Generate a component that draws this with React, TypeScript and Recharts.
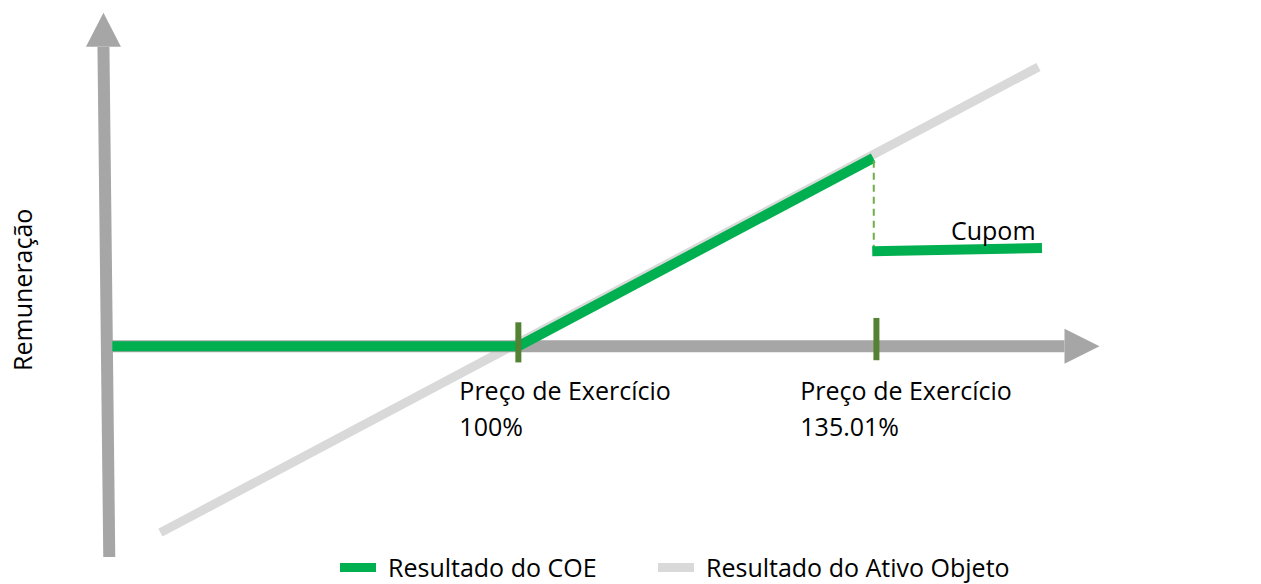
import { ComposedChart, Line, Scatter, XAxis, YAxis, ReferenceLine } from 'recharts';

// strikes (x in % of initial price)
const strikes = [100, 135.01];
const strikeTicks = [
  { x: 100, top: 4.4, bottom: -3.0 },
  { x: 135.01, top: 5.2, bottom: -2.6 },
];

// COE payoff pieces
const coeMain = [
  { x: 60.3, y: 0 },
  { x: 100, y: 0 },
  { x: 134.7, y: 34.7 },
];
const coeDrop = [
  { x: 134.75, y: 34.2 },
  { x: 134.75, y: 18.2 },
];
const coeCoupon = [
  { x: 134.6, y: 17.5 },
  { x: 151.2, y: 18.1 },
];

// underlying asset
const ativo = [
  { x: 65, y: -34.4 },
  { x: 150.85, y: 51.5 },
];

// drawn axes
const xAxisShaft = [
  { x: 60, y: 0 },
  { x: 153.4, y: 0 },
];
const yAxisShaft = [
  { x: 60, y: -38.9 },
  { x: 59.43, y: 55.2 },
];
const arrowHeads = [
  { x: 59.43, y: 55.2, dir: 'up' },
  { x: 153.4, y: 0, dir: 'right' },
];

const labels = [
  { x: 94.23, y: -9.9, text: 'Preço de Exercício' },
  { x: 94.23, y: -16.6, text: strikes[0] + '%' },
  { x: 127.57, y: -9.9, text: 'Preço de Exercício' },
  { x: 127.57, y: -16.6, text: strikes[1] + '%' },
  { x: 142.3, y: 19.6, text: 'Cupom' },
  { x: 160, y: -0.6, text: 'Preço Final' },
];
const yTitle = [{ x: 52.4, y: 10.4, text: 'Remuneração' }];

const legendItems = [
  { name: 'Resultado do COE', color: '#00b050', left: 340 },
  { name: 'Resultado do Ativo Objeto', color: '#d9d9d9', left: 658 },
];

const FONT = '"Open Sans", sans-serif';
const AXIS_GRAY = '#a6a6a6';

const ArrowHead = (props: any) => {
  const { cx, cy, payload } = props;
  if (payload.dir === 'up') {
    return <polygon points={`${cx - 17.5},${cy} ${cx + 17.5},${cy} ${cx},${cy - 34}`} fill={AXIS_GRAY} />;
  }
  return <polygon points={`${cx},${cy - 17.5} ${cx},${cy + 17.5} ${cx + 35},${cy}`} fill={AXIS_GRAY} />;
};

const TextMark = (props: any) => (
  <text x={props.cx} y={props.cy} fontFamily={FONT} fontSize={25} fill="#000">
    {props.payload.text}
  </text>
);

const RotatedText = (props: any) => (
  <text
    x={props.cx}
    y={props.cy}
    fontFamily={FONT}
    fontSize={25}
    fill="#000"
    textAnchor="middle"
    transform={`rotate(-90 ${props.cx} ${props.cy})`}
  >
    {props.payload.text}
  </text>
);

export default function App() {
  return (
    <div style={{ position: 'absolute', left: 0, top: 0, width: 1261, height: 584, background: '#fff', overflow: 'hidden' }}>
      <ComposedChart width={1261} height={584} margin={{ top: 10, right: 129, bottom: 21, left: 7 }}>
        <XAxis dataKey="x" type="number" domain={[50, 160]} allowDataOverflow hide />
        <YAxis type="number" domain={[-40, 62]} allowDataOverflow hide />
        <Line data={ativo} dataKey="y" stroke="#d9d9d9" strokeWidth={9} dot={false} activeDot={false} isAnimationActive={false} />
        <Line data={yAxisShaft} dataKey="y" stroke={AXIS_GRAY} strokeWidth={12} dot={false} activeDot={false} isAnimationActive={false} />
        <Line data={xAxisShaft} dataKey="y" stroke={AXIS_GRAY} strokeWidth={12} dot={false} activeDot={false} isAnimationActive={false} />
        <Scatter data={arrowHeads} dataKey="y" shape={ArrowHead} isAnimationActive={false} />
        <Line data={coeMain} dataKey="y" stroke="#00b050" strokeWidth={10} dot={false} activeDot={false} isAnimationActive={false} />
        <Line data={coeDrop} dataKey="y" stroke="#70ad47" strokeWidth={2} strokeDasharray="7 5" dot={false} activeDot={false} isAnimationActive={false} />
        <Line data={coeCoupon} dataKey="y" stroke="#00b050" strokeWidth={10} dot={false} activeDot={false} isAnimationActive={false} />
        {strikeTicks.map((t) => (
          <ReferenceLine
            key={t.x}
            segment={[{ x: t.x, y: t.top }, { x: t.x, y: t.bottom }]}
            stroke="#548235"
            strokeWidth={6}
          />
        ))}
        <Scatter data={labels} dataKey="y" shape={TextMark} isAnimationActive={false} />
        <Scatter data={yTitle} dataKey="y" shape={RotatedText} isAnimationActive={false} />
      </ComposedChart>
      {legendItems.map((item) => (
        <div
          key={item.name}
          style={{
            position: 'absolute',
            left: item.left,
            top: 550,
            display: 'flex',
            alignItems: 'center',
            fontFamily: FONT,
            fontSize: 25,
            lineHeight: '34px',
            whiteSpace: 'nowrap',
          }}
        >
          <span style={{ width: 36, height: 9, background: item.color, marginRight: 12, display: 'inline-block' }} />
          <span>{item.name}</span>
        </div>
      ))}
    </div>
  );
}
